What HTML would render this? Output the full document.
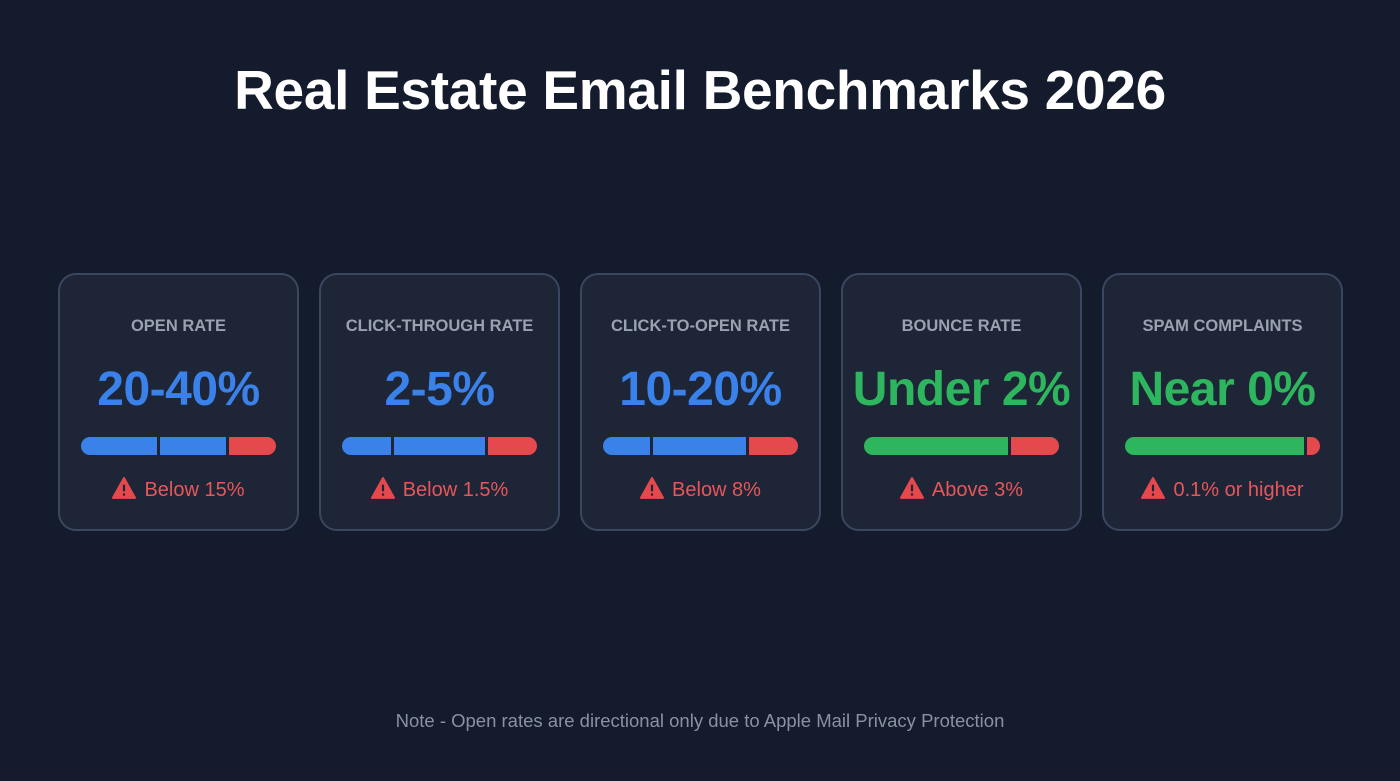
<!DOCTYPE html>
<html><head><meta charset="utf-8"><style>
html,body{margin:0;padding:0}
body{width:1400px;height:781px;background:#131b2c;position:relative;overflow:hidden;font-family:"Liberation Sans",sans-serif}
#title{position:absolute;top:58px;left:0;width:1400px;text-align:center;color:#fff;font-weight:bold;font-size:55px;letter-spacing:-0.3px}
.card{position:absolute;top:273px;width:237px;height:254px;border:2px solid #3a4760;border-radius:18px;background:#1d2536}
.lbl{position:absolute;top:42px;width:100%;text-align:center;color:#9aa2b1;font-weight:bold;font-size:16.5px}
.val{position:absolute;top:87px;width:100%;text-align:center;font-weight:bold;font-size:48px;letter-spacing:-0.5px}
.bar{position:absolute;top:162px;left:21px;width:195px;height:18px;border-radius:9px;overflow:hidden;display:flex}
.seg{height:100%}
.warn{position:absolute;top:202px;width:100%;text-align:center;color:#e8565a;font-size:20px}
.warn svg{vertical-align:-3px;margin-right:8px}
#note{position:absolute;top:710px;width:1400px;text-align:center;color:#8a92a2;font-size:18.5px}
</style></head><body>
<div id="title">Real Estate Email Benchmarks 2026</div>
<div id="cards"></div>
<div id="note">Note - Open rates are directional only due to Apple Mail Privacy Protection</div>
<script>
const labels=["OPEN RATE","CLICK-THROUGH RATE","CLICK-TO-OPEN RATE","BOUNCE RATE","SPAM COMPLAINTS"];
const values=["20-40%","2-5%","10-20%","Under 2%","Near 0%"];
const valueKinds=["blue","blue","blue","green","green"];
const warnings=["Below 15%","Below 1.5%","Below 8%","Above 3%","0.1% or higher"];
const segShares=[[40,35,25],[26,48,26],[25,49,26],[75,25],[93,7]];
const segKinds=[["blue","blue","red"],["blue","blue","red"],["blue","blue","red"],["green","red"],["green","red"]];
const colors={blue:"#3a82ea",green:"#2eb65e",red:"#e5484d"};
const wrap=document.getElementById('cards');
labels.forEach((l,i)=>{
  const c=document.createElement('div');c.className='card';c.style.left=(58+i*261)+'px';
  
  
  const a=document.createElement('div');a.className='lbl';a.textContent=l;
  
  
  const v=document.createElement('div');v.className='val';v.textContent=values[i];v.style.color=colors[valueKinds[i]];
  
  
  const b=document.createElement('div');b.className='bar';
  
  
  const tot=segShares[i].reduce((s,x)=>s+x,0);
  segShares[i].forEach((s,j)=>{
    const sg=document.createElement('div');sg.className='seg';
    sg.style.width=(s/tot*195)+'px';sg.style.background=colors[segKinds[i][j]];
    if(j>0)sg.style.borderLeft='3px solid #1d2536';
    
    
    b.appendChild(sg);
  });
  const w=document.createElement('div');w.className='warn';
  
  
  w.innerHTML='<svg width="24" height="22" viewBox="0 0 22 20"><path d="M11 1 L21 19 L1 19 Z" fill="#e5484d" stroke="#e5484d" stroke-linejoin="round" stroke-width="2"/><rect x="10" y="7" width="2" height="6" fill="#1d2536"/><rect x="10" y="15" width="2" height="2" fill="#1d2536"/></svg>'+warnings[i];
  c.append(a,v,b,w);wrap.appendChild(c);
});
</script>
</body></html>
